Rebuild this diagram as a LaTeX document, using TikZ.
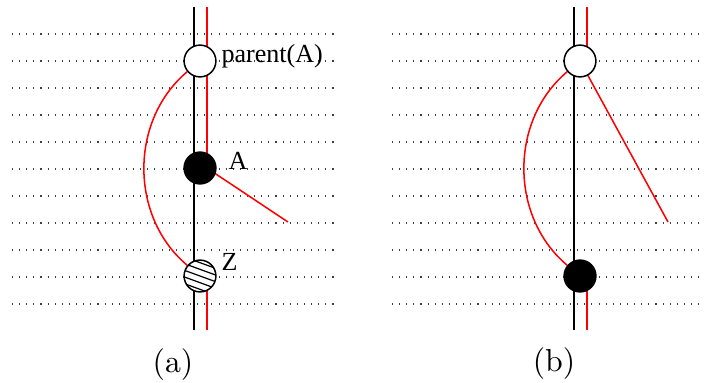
\documentclass[tikz,border=0pt]{standalone}
\usepackage{fontspec}
\newfontfamily\lblfont{Liberation Serif}
\usetikzlibrary{backgrounds}
\begin{document}
\begin{tikzpicture}[x=0.33pt,y=-0.33pt,
  vert/.style={line width=0.6pt},
  redl/.style={red,line width=0.5pt},
  gridl/.style={dotted,line width=0.35pt,black!75},
  vtx/.style={circle,draw,line width=0.5pt,minimum size=10.5pt,inner sep=0pt},
  opennode/.style={vtx,fill=white},
  fullnode/.style={vtx,fill=black},
  hatchnode/.style={vtx,fill=white,path picture={\foreach \k in {-4,...,4}{\draw[line width=0.4pt] ([shift={(-10pt,\k*2.2pt+3.64pt)}]path picture bounding box.center) -- ++(20pt,-7.28pt);}}},
  lbl/.style={font=\lblfont\fontsize{8.6}{10}\selectfont,inner sep=0pt,anchor=base west},
  captext/.style={font=\fontsize{10.5}{12}\selectfont,inner sep=0pt,anchor=base}]
\useasboundingbox (0,0) rectangle (706,382);
% panel (a)
\node[opennode] (Pa) at (200,61) {};
\node[fullnode] (Aa) at (200,168) {};
\node[hatchnode] (Za) at (200,276) {};
\node[lbl] (lP) at (221,62) {parent(A)};
\node[lbl] (lA) at (228,169) {A};
\node[lbl] (lZ) at (221,270) {Z};
\node[captext] (ca) at (173,372) {(a)};
\coordinate (ta) at (194,7);
\coordinate (ba) at (194,330);
\coordinate (tra) at (207,7);
\coordinate (bra) at (207,330);
\coordinate (ea) at (288,222);
% panel (b)
\node[opennode] (Pb) at (580,61) {};
\node[fullnode] (Bb) at (580,276) {};
\node[captext] (cb) at (554,371) {(b)};
\coordinate (tb) at (574,7);
\coordinate (bb) at (574,330);
\coordinate (trb) at (587,7);
\coordinate (brb) at (587,330);
\coordinate (eb) at (668,222);
\begin{scope}[on background layer]
  \foreach \i in {0,...,10}{
    \draw[gridl] (12,34+27*\i) -- (337,34+27*\i);
    \draw[gridl] (392,34+27*\i) -- (702,34+27*\i);
  }
  \draw[vert] (ta) -- (ba);
  \draw[redl] (tra) -- (tra |- Aa);
  \draw[redl] (bra |- Za) -- (bra);
  \draw[redl] ([yshift=1.5pt]Aa.center) -- (ea);
  \draw[redl] (Pa) to[bend right=50] (Za);
  \draw[vert] (tb) -- (bb);
  \draw[redl] (trb) -- (trb |- Pb);
  \draw[redl] (brb |- Bb) -- (brb);
  \draw[redl] (Pb.center) -- (eb);
  \draw[redl] (Pb) to[bend right=50] (Bb);
\end{scope}
\end{tikzpicture}
\end{document}
